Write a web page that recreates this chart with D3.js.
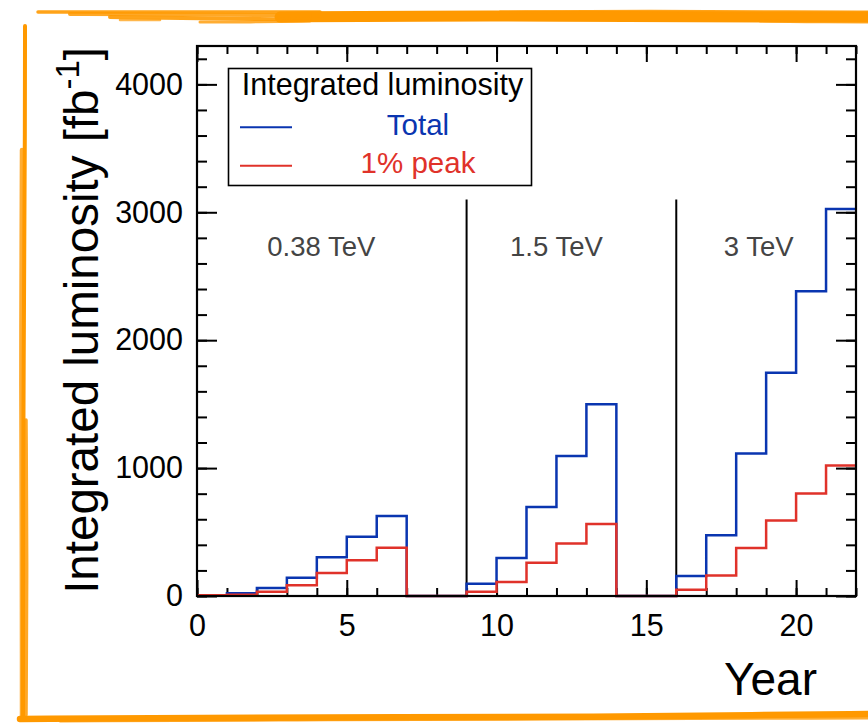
<!DOCTYPE html>
<html>
<head>
<meta charset="utf-8">
<script src="https://cdn.jsdelivr.net/npm/d3@7"></script>
<style>
  html, body { margin: 0; padding: 0; background: #fff; }
  svg { display: block; }
  text { font-family: "Liberation Sans", Arial, Helvetica, sans-serif; }
</style>
</head>
<body>
<svg id="chart" width="868" height="723"></svg>
<script>
// Yearly bins, one per year from 0 to 22
const binStarts = d3.range(0, 22);
// Integrated luminosity per year [fb^-1]
const totalLumi = [6, 21, 62, 143, 302, 463, 625, 0, 0, 96, 297, 695, 1094, 1500, 0, 0, 156, 474, 1115, 1745, 2383, 3025];
const peakLumi  = [6, 10, 34, 84, 180, 279, 377, 0, 0, 34, 109, 260, 411, 562, 0, 0, 49, 161, 375, 591, 802, 1021];
// Energy stage boundaries and labels
const stageBoundaries = [9, 16];
const stageLineTop = 3100;
const stageLabels = ["0.38 TeV", "1.5 TeV", "3 TeV"];
const stageLabelYears = [4.15, 12.0, 18.75];
const stageLabelValue = 2660;
// Axis ticks
const xMajorTicks = [0, 5, 10, 15, 20];
const xMinorTicks = d3.range(0, 23);
const yMajorTicks = [0, 1000, 2000, 3000, 4000];
const yMinorTicks = d3.range(0, 4300, 200);
const legendTitle = "Integrated luminosity";
const seriesNames = ["Total", "1% peak"];

const BLUE = "#0a35b0";
const RED = "#e0322a";
const ORANGE = "#ff9900";

const svg = d3.select("#chart");
const frame = { left: 197, right: 856, top: 46, bottom: 596 };

const x = d3.scaleLinear().domain([0, 22]).range([frame.left, frame.right]);
const y = d3.scaleLinear().domain([0, 4300]).range([frame.bottom, frame.top]);

// ---- hand-drawn orange border ----
const border = svg.append("g").attr("fill", "none").attr("stroke", ORANGE)
  .attr("stroke-linecap", "round").attr("stroke-linejoin", "round");
const brush = d3.line().curve(d3.curveBasis);
// top stroke: solid band on the right, streaky on the left
border.append("path")
  .attr("d", brush([[280,17],[420,16],[560,16],[700,17],[800,17],[868,17]]))
  .attr("stroke-width", 11);
[
  [[38,12],[120,12],[220,12],[320,12]],
  [[70,14],[150,14],[230,15],[310,15]],
  [[110,17],[180,18],[260,19],[330,20]],
  [[120,20],[160,20]],
  [[200,22],[260,22],[310,21]],
  [[760,21],[830,22],[868,22]],
  [[500,12],[650,11],[800,12],[868,12]]
].forEach((pts, i) => {
  border.append("path").attr("d", brush(pts))
    .attr("stroke-width", [3.5, 4, 4, 2.5, 3, 3, 3][i])
    .attr("stroke-opacity", [0.9, 0.85, 0.9, 0.7, 0.8, 0.8, 0.9][i]);
});
// left stroke
border.append("path").attr("d", brush([[25,26],[25,120],[24,300],[23,500],[23,650],[23,718]]))
  .attr("stroke-width", 4);
border.append("path").attr("d", brush([[22,150],[21,400],[22,560],[22,660],[22,719]]))
  .attr("stroke-width", 4.5).attr("stroke-opacity", 0.8);
border.append("path").attr("d", brush([[26,420],[27,560],[26,715]]))
  .attr("stroke-width", 3.5).attr("stroke-opacity", 0.85);
// bottom stroke
border.append("path").attr("d", brush([[20,719],[200,718],[400,717],[600,717],[760,715],[868,714]]))
  .attr("stroke-width", 6.5);
border.append("path").attr("d", brush([[60,721],[300,720],[520,719],[868,718]]))
  .attr("stroke-width", 3).attr("stroke-opacity", 0.8);

// ---- axes (ROOT style: ticks inside on all four sides) ----
const axes = svg.append("g");
function styleAxis(g) {
  g.select(".domain").remove();
  g.selectAll(".tick line").attr("stroke", "#000").attr("stroke-width", 2);
  g.selectAll(".tick text").attr("font-size", 30.5).attr("fill", "#000")
    .attr("font-family", "'Liberation Sans', Arial, Helvetica, sans-serif");
}
// bottom
axes.append("g").attr("transform", `translate(0,${frame.bottom})`)
  .call(d3.axisBottom(x).tickValues(xMinorTicks).tickSize(-8).tickFormat(""))
  .call(styleAxis);
axes.append("g").attr("transform", `translate(0,${frame.bottom})`)
  .call(d3.axisBottom(x).tickValues(xMajorTicks).tickSize(-16).tickPadding(18).tickFormat(d3.format("d")))
  .call(styleAxis);
// top
axes.append("g").attr("transform", `translate(0,${frame.top})`)
  .call(d3.axisTop(x).tickValues(xMinorTicks).tickSize(-8).tickFormat(""))
  .call(styleAxis);
axes.append("g").attr("transform", `translate(0,${frame.top})`)
  .call(d3.axisTop(x).tickValues(xMajorTicks).tickSize(-16).tickFormat(""))
  .call(styleAxis);
// left
axes.append("g").attr("transform", `translate(${frame.left},0)`)
  .call(d3.axisLeft(y).tickValues(yMinorTicks).tickSize(-10).tickFormat(""))
  .call(styleAxis);
axes.append("g").attr("transform", `translate(${frame.left},0)`)
  .call(d3.axisLeft(y).tickValues(yMajorTicks).tickSize(-20).tickPadding(14).tickFormat(d3.format("d")))
  .call(styleAxis);
// right
axes.append("g").attr("transform", `translate(${frame.right},0)`)
  .call(d3.axisRight(y).tickValues(yMinorTicks).tickSize(-10).tickFormat(""))
  .call(styleAxis);
axes.append("g").attr("transform", `translate(${frame.right},0)`)
  .call(d3.axisRight(y).tickValues(yMajorTicks).tickSize(-20).tickFormat(""))
  .call(styleAxis);

// axis titles
svg.append("text")
  .attr("transform", "translate(817,695)")
  .attr("text-anchor", "end").attr("font-size", 46).text("Year");

const yTitle = svg.append("text")
  .attr("transform", "translate(98,47) rotate(-90)")
  .attr("text-anchor", "end").attr("font-size", 47.5);
yTitle.append("tspan").text("Integrated luminosity [fb");
yTitle.append("tspan").attr("font-size", 33).attr("dy", -19).text("-1");
yTitle.append("tspan").attr("dy", 19).text("]");

// ---- stage separators and labels ----
svg.append("g").selectAll("line").data(stageBoundaries).join("line")
  .attr("x1", d => x(d)).attr("x2", d => x(d))
  .attr("y1", y(0)).attr("y2", y(stageLineTop))
  .attr("stroke", "#000").attr("stroke-width", 2);

svg.append("g").selectAll("text").data(stageLabels).join("text")
  .attr("x", (d, i) => x(stageLabelYears[i]))
  .attr("y", y(stageLabelValue))
  .attr("text-anchor", "middle").attr("font-size", 27.5).attr("fill", "#444")
  .text(d => d);

// ---- histograms ----
function stepPath(values) {
  const pts = binStarts.map((b, i) => [b, values[i]]);
  pts.push([22, values[values.length - 1]]);
  return d3.line().x(d => x(d[0])).y(d => y(d[1])).curve(d3.curveStepAfter)(pts);
}
svg.append("path").attr("d", stepPath(totalLumi))
  .attr("fill", "none").attr("stroke", BLUE).attr("stroke-width", 2.5);
svg.append("path").attr("d", stepPath(peakLumi))
  .attr("fill", "none").attr("stroke", RED).attr("stroke-width", 2.5);

// frame
svg.append("rect")
  .attr("x", frame.left).attr("y", frame.top)
  .attr("width", frame.right - frame.left).attr("height", frame.bottom - frame.top)
  .attr("fill", "none").attr("stroke", "#000").attr("stroke-width", 2.2);

// ---- legend ----
const legend = svg.append("g");
legend.append("rect")
  .attr("x", 228.5).attr("y", 68.5).attr("width", 303).attr("height", 117)
  .attr("fill", "#fff").attr("stroke", "#000").attr("stroke-width", 1.6);
legend.append("text").attr("x", 382.5).attr("y", 95)
  .attr("text-anchor", "middle").attr("font-size", 30.5).text(legendTitle);
const legendRows = [
  { name: seriesNames[0], color: BLUE, lineY: 127.3, textY: 135 },
  { name: seriesNames[1], color: RED, lineY: 165.7, textY: 173 }
];
legendRows.forEach(r => {
  legend.append("line").attr("x1", 240).attr("x2", 292)
    .attr("y1", r.lineY).attr("y2", r.lineY)
    .attr("stroke", r.color).attr("stroke-width", 2);
  legend.append("text").attr("x", 418).attr("y", r.textY)
    .attr("text-anchor", "middle").attr("font-size", 29.5)
    .attr("fill", r.color).text(r.name);
});
</script>
</body>
</html>
